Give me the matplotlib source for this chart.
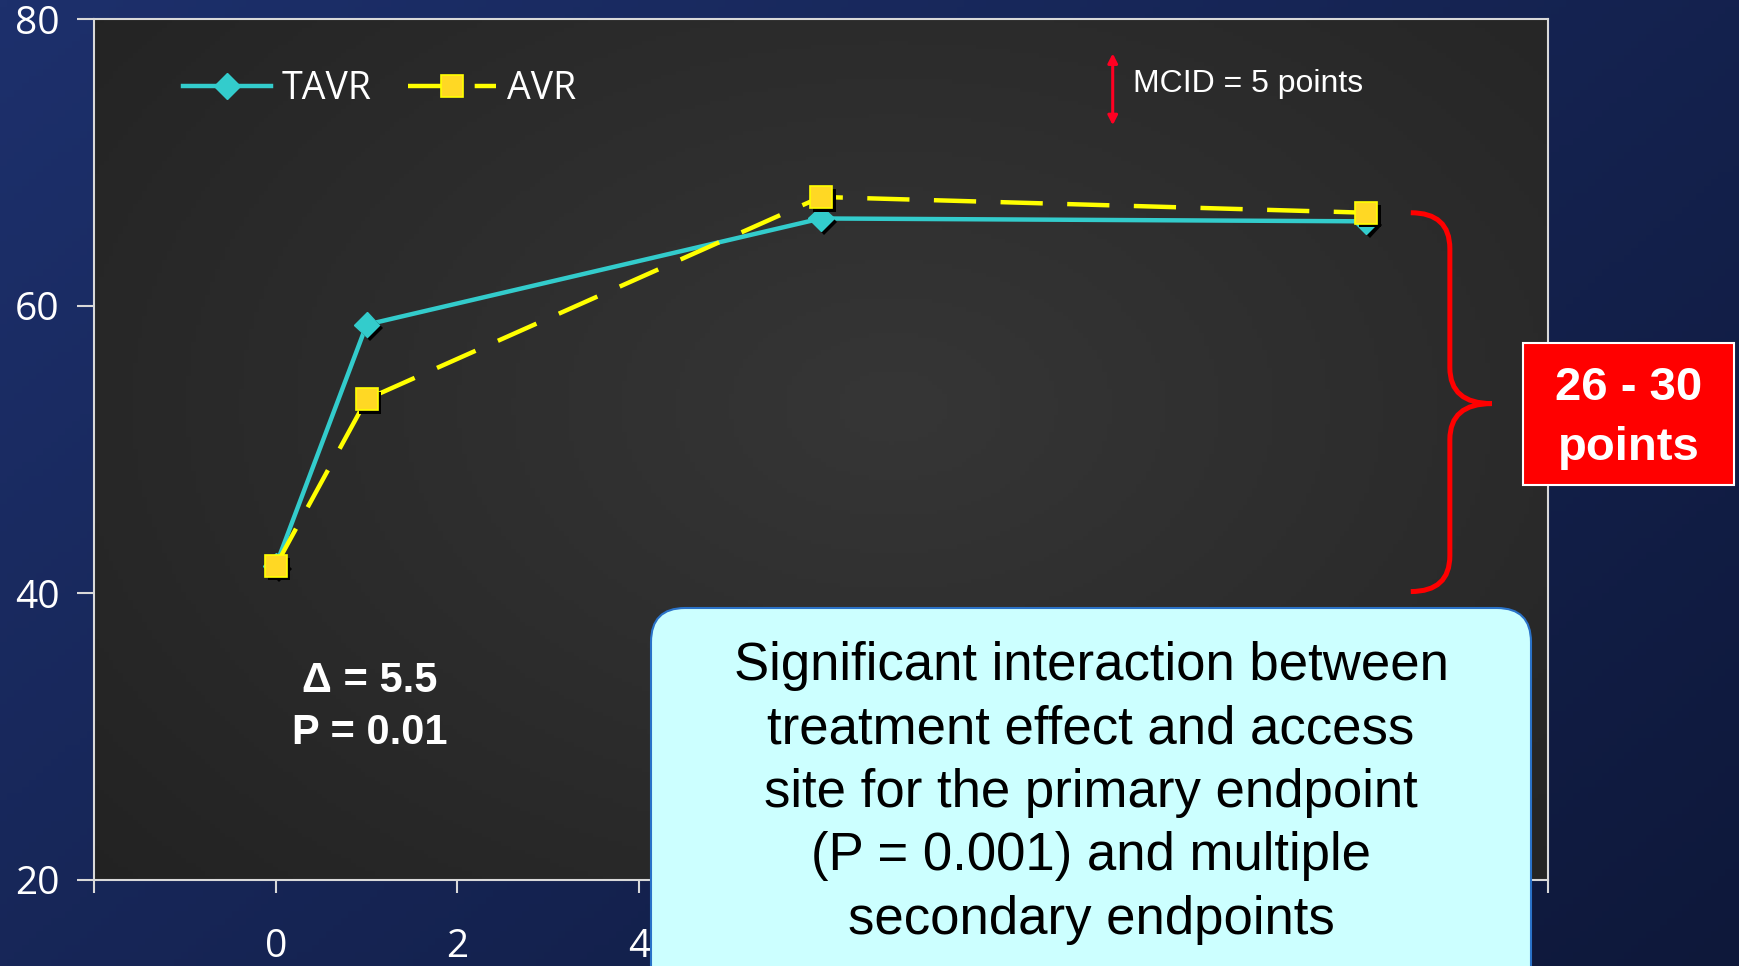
import numpy as np
import matplotlib.pyplot as plt
import matplotlib.patheffects as pe
from matplotlib.lines import Line2D
from matplotlib.patches import FancyBboxPatch, Rectangle, PathPatch
from matplotlib.path import Path
from matplotlib.transforms import IdentityTransform

# KCCQ overall summary score by visit (months)
months = [0, 1, 6, 12]
tavr = [41.9, 58.7, 66.1, 65.9]
avr = [41.9, 53.5, 67.6, 66.5]
series_names = ["TAVR", "AVR"]

# the labels further right sit under the note box, so only 0-4 are written
x_ticks = [-2, 0, 2, 4, 6, 8, 10, 12, 14]
x_tick_labels = ["", "0", "2", "4", "", "", "", "", ""]
y_ticks = [20, 40, 60, 80]

mcid = 5
delta_text = "\u0394 = 5.5"
p_text = "P = 0.01"
range_text = "26 - 30\npoints"
note_text = ("Significant interaction between\ntreatment effect and access\n"
             "site for the primary endpoint\n(P = 0.001) and multiple\nsecondary endpoints")

W, H = 1740, 966
TEAL = "#33cccc"
YELLOW = "#ffff00"
SQUARE = "#ffd824"
AXC = "#d9d9d9"
ARIAL = "Liberation Sans"
TICKF = "Open Sans"

fig = plt.figure(figsize=(W / 100, H / 100), dpi=100)

# slide background: navy, darker towards the lower right
bg = fig.add_axes([0, 0, 1, 1], zorder=-10)
gx, gy = np.meshgrid(np.linspace(0, 1, 240), np.linspace(0, 1, 140))
t = np.clip(0.6 * gx + 0.4 * gy, 0, 1)
c0 = np.array([29, 48, 108]) / 255
c1 = np.array([14, 24, 58]) / 255
bg.imshow(c0 + (c1 - c0) * t[..., None], extent=[0, 1, 0, 1], aspect="auto", origin="upper")
bg.axis("off")

ax = fig.add_axes([94 / W, 1 - 880 / H, (1548 - 94) / W, (880 - 19) / H])

# plot area: dark grey with a soft lighter centre
rx, ry = np.meshgrid(np.linspace(0, 1, 300), np.linspace(0, 1, 200))
r = np.sqrt(((rx - 0.55) / 0.75) ** 2 + ((ry - 0.45) / 0.85) ** 2)
k = np.clip(1 - r, 0, 1)
face = (0x22 + (0x36 - 0x22) * k) / 255
ax.imshow(np.dstack([face, face, face]), extent=[-2, 14, 20, 80], aspect="auto",
          origin="upper", zorder=0)

ax.set_xlim(-2, 14)
ax.set_ylim(20, 80)

for s in ax.spines.values():
    s.set_color(AXC)
    s.set_linewidth(1.5)
    s.set_zorder(6)

ax.set_xticks(x_ticks)
ax.set_xticklabels(x_tick_labels)
ax.set_yticks(y_ticks)
ax.tick_params(axis="both", colors=AXC, width=1.5, labelcolor="white")
ax.tick_params(axis="y", length=12, pad=13, labelsize=28)
ax.tick_params(axis="x", length=9.5, pad=25, labelsize=28)
for lab in ax.get_xticklabels() + ax.get_yticklabels():
    lab.set_family(TICKF)

# lines
ax.plot(months, tavr, color=TEAL, lw=3.2, zorder=3)
ax.plot(months, avr, color=YELLOW, lw=3.2, dashes=(9.5, 5.5), zorder=4)

shadow = [pe.SimplePatchShadow(offset=(2.5, -2.5), shadow_rgbFace="black", alpha=1), pe.Normal()]
ax.plot(months, tavr, ls="none", marker="D", ms=13, color=TEAL, zorder=3.5, path_effects=shadow)
ax.plot(months, avr, ls="none", marker="s", ms=16, mfc=SQUARE, mec=YELLOW, mew=1.2,
        zorder=4.5, path_effects=shadow)

h1 = Line2D([], [], color=TEAL, lw=3.2, marker="D", ms=13)
h2 = Line2D([], [], color=YELLOW, lw=3.2, dashes=(9.5, 5.5), marker="s", ms=16,
            mfc=SQUARE, mec=YELLOW, mew=1.2)
leg = ax.legend([h1, h2], series_names, loc="center left", bbox_to_anchor=(0.061, 0.919),
                ncol=2, frameon=False, handlelength=2.35, handletextpad=0.3,
                columnspacing=0.95, borderpad=0, borderaxespad=0,
                prop={"family": TICKF, "size": 27})
for txt in leg.get_texts():
    txt.set_color("white")

# MCID marker
ax.annotate("", xy=(9.21, 75.1 - mcid / 2), xytext=(9.21, 75.1 + mcid / 2),
            arrowprops=dict(arrowstyle="<|-|>,head_length=0.55,head_width=0.28",
                            color="#ff0022", lw=2.2, shrinkA=0, shrinkB=0), zorder=5)
ax.text(9.43, 75.5, "MCID = %d points" % mcid, color="white", fontsize=23,
        family=ARIAL, va="center", ha="left", zorder=5)

# difference at 1 month
ax.text(1.03, 33.85, delta_text, color="white", fontsize=30, family=ARIAL,
        weight="bold", ha="center", va="center", zorder=5)
ax.text(1.03, 30.25, p_text, color="white", fontsize=30, family=ARIAL,
        weight="bold", ha="center", va="center", zorder=5)

# curly brace spanning baseline to 1 year
xt, xv, xp = 12.49, 12.92, 13.38
top, mid, bot = 66.5, 53.2, 40.1
ry = 2.5
verts = [(xt, top), (xv, top), (xv, top - ry), (xv, mid + ry), (xv, mid), (xp, mid),
         (xv, mid), (xv, mid - ry), (xv, bot + ry), (xv, bot), (xt, bot)]
codes = [Path.MOVETO, Path.CURVE3, Path.CURVE3, Path.LINETO, Path.CURVE3, Path.CURVE3,
         Path.CURVE3, Path.CURVE3, Path.LINETO, Path.CURVE3, Path.CURVE3]
ax.add_patch(PathPatch(Path(verts, codes), fc="none", ec="#ff0000", lw=3.6,
                       capstyle="butt", clip_on=False, zorder=5))

# red callout with the range
fig.add_artist(Rectangle((1523, H - 485), 211, 142, fc="#ff0000", ec="white", lw=1.5,
                         transform=IdentityTransform(), zorder=8))
fig.text(1629 / W, 1 - 418 / H, range_text, color="white", fontsize=34, family=ARIAL,
         weight="bold", ha="center", va="center", linespacing=1.45, zorder=9)

# note box at the bottom
fig.add_artist(FancyBboxPatch((651, -60), 880, H - 608 + 60,
                              boxstyle="round,pad=0,rounding_size=34",
                              fc="#ccffff", ec="#2a72c8", lw=1.5,
                              transform=IdentityTransform(), zorder=8))
fig.text(1091 / W, 1 - 793 / H, note_text, color="black", fontsize=38, family=ARIAL,
         ha="center", va="center", multialignment="center", linespacing=1.34, zorder=9)

fig.savefig("out.png", dpi=100)
